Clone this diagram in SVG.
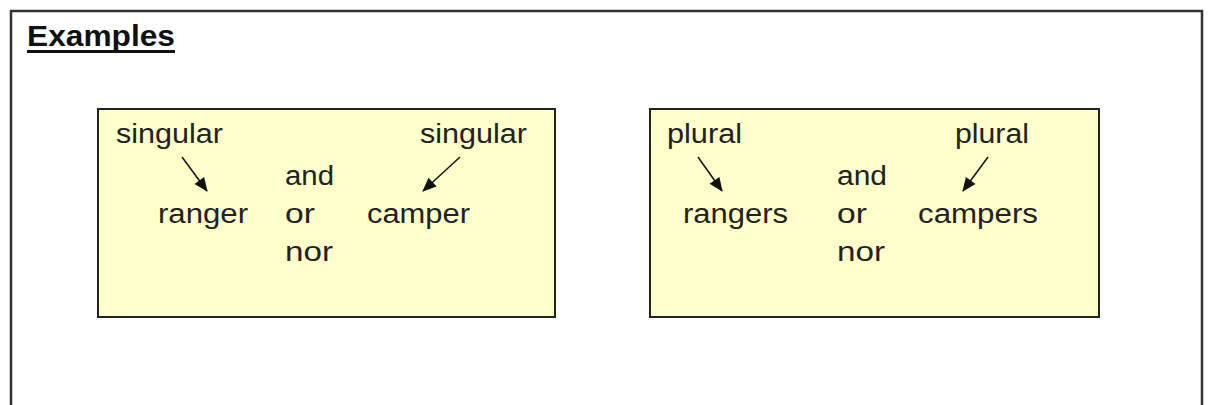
<svg xmlns="http://www.w3.org/2000/svg" width="1208" height="405" viewBox="0 0 1208 405">
<style>
.t{font-family:"Liberation Sans",Arial,sans-serif;font-size:27px;fill:#222}
.box{fill:#ffffcc;stroke:#222;stroke-width:2}
.arr{stroke:#111;stroke-width:1.5;fill:none;marker-end:url(#ah)}
</style>
<defs>
<marker id="ah" viewBox="0 0 14 12" refX="13" refY="6" markerWidth="14" markerHeight="12" markerUnits="userSpaceOnUse" orient="auto" overflow="visible">
<path d="M0,0 L14,6 L0,12 Z" fill="#111"/>
</marker>
</defs>
<rect width="1208" height="405" fill="#fff"/>
<rect id="frame" x="11" y="11" width="1191" height="430" fill="none" stroke="#333" stroke-width="2.5"/>
<g id="title">
<text x="27" y="46" font-family="Liberation Sans,Arial,sans-serif" font-weight="bold" font-size="29" textLength="148" lengthAdjust="spacingAndGlyphs" fill="#111">Examples</text>
<rect x="27" y="50" width="148" height="3" fill="#111"/>
</g>
<g id="box-singular">
<rect class="box" x="98" y="109" width="457" height="208"/>
<text class="t" x="116" y="143" textLength="107" lengthAdjust="spacingAndGlyphs">singular</text>
<text class="t" x="420" y="143" textLength="107" lengthAdjust="spacingAndGlyphs">singular</text>
<text class="t" x="158" y="223" textLength="90" lengthAdjust="spacingAndGlyphs">ranger</text>
<text class="t" x="285" y="185" textLength="49" lengthAdjust="spacingAndGlyphs">and</text>
<text class="t" x="285" y="223" textLength="30" lengthAdjust="spacingAndGlyphs">or</text>
<text class="t" x="285" y="261" textLength="48" lengthAdjust="spacingAndGlyphs">nor</text>
<text class="t" x="367" y="223" textLength="103" lengthAdjust="spacingAndGlyphs">camper</text>
</g>
<g id="box-plural">
<rect class="box" x="650" y="109" width="449" height="208"/>
<text class="t" x="667" y="143" textLength="75" lengthAdjust="spacingAndGlyphs">plural</text>
<text class="t" x="955" y="143" textLength="74" lengthAdjust="spacingAndGlyphs">plural</text>
<text class="t" x="683" y="223" textLength="105" lengthAdjust="spacingAndGlyphs">rangers</text>
<text class="t" x="837" y="185" textLength="50" lengthAdjust="spacingAndGlyphs">and</text>
<text class="t" x="837" y="223" textLength="30" lengthAdjust="spacingAndGlyphs">or</text>
<text class="t" x="837" y="261" textLength="48" lengthAdjust="spacingAndGlyphs">nor</text>
<text class="t" x="918" y="223" textLength="120" lengthAdjust="spacingAndGlyphs">campers</text>
</g>
<g id="connectors">
<line class="arr" x1="182" y1="157" x2="207" y2="191"/>
<line class="arr" x1="460" y1="157" x2="423" y2="191"/>
<line class="arr" x1="698" y1="157" x2="722" y2="191"/>
<line class="arr" x1="988" y1="157" x2="963" y2="191"/>
</g>
</svg>
